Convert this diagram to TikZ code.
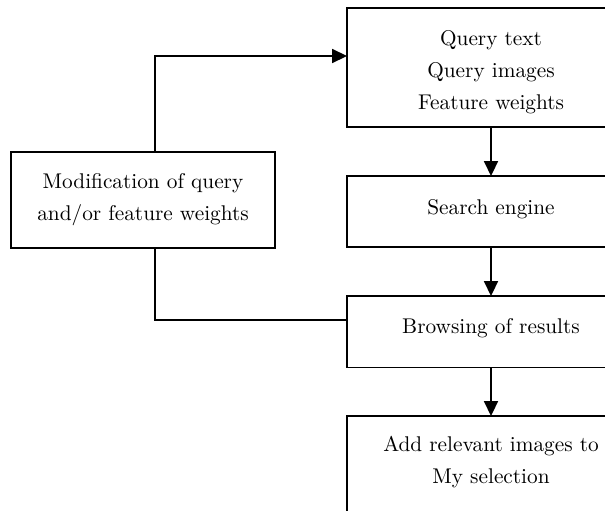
\documentclass[tikz,border=0pt]{standalone}
\usetikzlibrary{arrows.meta}
\def\pxu{0.4695pt}
\tikzset{
  x=0.4695pt, y=-0.4695pt,
  box/.style={draw, line width=0.7pt, rectangle, inner sep=0pt, outer sep=0pt},
  lbl/.style={align=center, inner sep=0pt, font={\fontsize{10}{15}\selectfont}},
  link/.style={line width=0.7pt},
  arr/.style={line width=0.7pt, -{Triangle[length=7pt,width=6.6pt]}}
}
\begin{document}
\begin{tikzpicture}
\useasboundingbox (0,0) rectangle (605,510);
\clip (0,0) rectangle (605,510);

% boxes of the loop
\node[box, minimum width={288*\pxu}, minimum height={119*\pxu}] (q) at (491,67.5) {};
\node[box, minimum width={288*\pxu}, minimum height={71*\pxu}] (s) at (491,211.5) {};
\node[box, minimum width={288*\pxu}, minimum height={71.5*\pxu}] (b) at (491,331.75) {};
\node[box, minimum width={288*\pxu}, minimum height={96*\pxu}] (a) at (491,464) {};
\node[box, minimum width={264*\pxu}, minimum height={96*\pxu}] (m) at (143,200) {};

% labels
\node[lbl] (qt) at (491,72.3) {Query text\\Query images\\Feature weights};
\node[lbl] (st) at (491,208.8) {Search engine};
\node[lbl] (bt) at (491,327.8) {Browsing of results};
\node[lbl] (at) at (491,462.5) {Add relevant images to\\My selection};
\node[lbl] (mt) at (143,199.5) {Modification of query\\and/or feature weights};

% bends of the feedback path
\coordinate (up) at (155,56);
\coordinate (dn) at (155,320);

% connectors
\draw[arr] (q.south) -- (s.north);
\draw[arr] (s.south) -- (b.north);
\draw[arr] (b.south) -- (a.north);
\draw[arr] (m.north -| up) |- (q.west |- up);
\draw[link] (m.south -| dn) |- (b.west |- dn);
\end{tikzpicture}
\end{document}
